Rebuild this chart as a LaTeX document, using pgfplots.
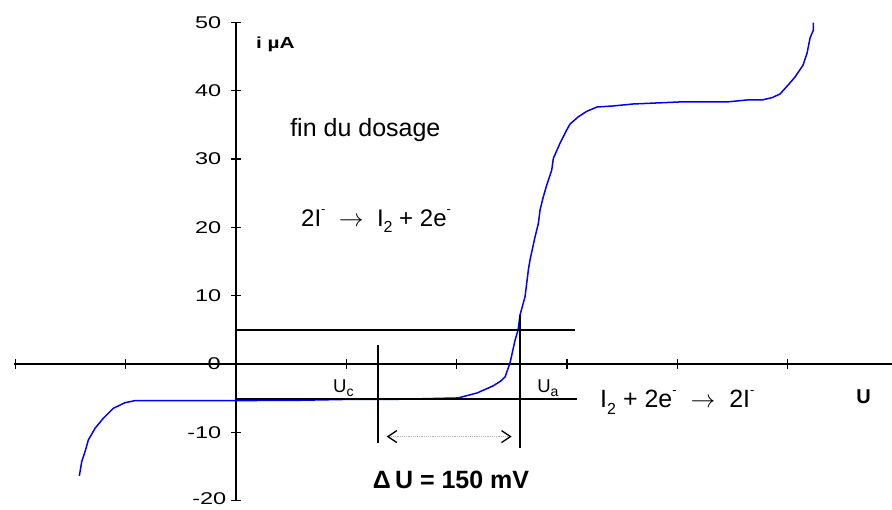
\documentclass[border=0pt]{standalone}
\usepackage{fontspec}
\setmainfont{Liberation Sans}
\usepackage{pgfplots}
\pgfplotsset{compat=1.18}
\usetikzlibrary{arrows.meta}
\newcommand{\fs}[1]{\fontsize{#1bp}{#1bp}\selectfont}
\newcommand{\sups}{\raisebox{0.55em}{\fs{13}-}}
\newcommand{\subs}[1]{\raisebox{-0.25em}{\fs{16}#1}}
\begin{document}
\begin{tikzpicture}
\begin{axis}[
  scale only axis, width=877.7bp, height=478bp,
  xmin=-2.01, xmax=5.947, ymin=-20, ymax=50,
  axis lines=middle, axis line style={-, line width=1.3bp, black},
  clip=false,
  xtick={-2,-1,0,1,2,3,4,5}, xticklabels={},
  ytick={-20,-10,0,10,20,30,40,50},
  yticklabels={,-10,0,10,20,30,40,50},
  tick align=center, major tick length=10bp,
  tick style={line width=1.3bp, black},
  yticklabel style={font=\fs{17}, anchor=east, inner sep=0pt, xshift=-9.5bp, xscale=1.38},
  xlabel={}, ylabel={},
]
\coordinate (bbl) at (axis cs:-2.140,-21.35);
\coordinate (bbr) at (axis cs:5.947,53.30);
% current-voltage curve
\addplot[blue, line width=1.5bp] coordinates {
(-1.421,-16.40) (-1.399,-14.31) (-1.369,-12.84) (-1.339,-11.13) (-1.278,-9.42)
(-1.203,-7.95) (-1.112,-6.49) (-1.006,-5.67) (-0.916,-5.37) (0,-5.37)
(0.580,-5.32) (0.988,-5.20) (1.487,-5.17) (2.013,-4.98) (2.185,-4.25)
(2.330,-3.22) (2.400,-2.50) (2.439,-1.90) (2.484,0.15) (2.530,3.51) (2.557,4.98)
(2.575,7.18) (2.620,9.86) (2.650,13.76) (2.665,15.23) (2.711,18.64)
(2.741,20.60) (2.756,22.55) (2.786,24.50) (2.817,26.21) (2.862,28.41)
(2.877,30.12) (2.937,32.32) (2.998,34.27) (3.028,35.14) (3.101,36.17)
(3.180,37.00) (3.273,37.63) (3.418,37.78) (3.599,38.07) (4.025,38.37) (4.451,38.37)
(4.633,38.66) (4.769,38.66) (4.860,39.00) (4.932,39.54) (5.005,40.85) (5.068,42.03)
(5.141,43.78) (5.177,45.54) (5.204,47.74) (5.234,48.91) (5.234,50.0)
};
% construction lines
\addplot[black, line width=1.5bp] coordinates {(0,5) (3.073,5)};
\addplot[black, line width=1.5bp] coordinates {(0,-5.13) (3.092,-5.13)};
\addplot[black, line width=1.5bp] coordinates {(1.287,2.78) (1.287,-11.57)};
\addplot[black, line width=1.5bp] coordinates {(2.575,7.18) (2.575,-12.30)};
\addplot[gray!60, line width=1.2bp, densely dotted,
  {Straight Barb[length=9bp,width=12bp,line width=1.3bp,color=black]}-{Straight Barb[length=9bp,width=12bp,line width=1.3bp,color=black]}]
  coordinates {(1.366,-10.64) (2.499,-10.64)};
% tick labels that the middle axis lines hide or that sit at the edge
\node[anchor=east, inner sep=0pt, font=\fs{17}, xshift=-15bp, xscale=1.38] at (axis cs:0,0) {0};
\node[anchor=east, inner sep=0pt, font=\fs{17}, xshift=-9.5bp, yshift=1.5bp, xscale=1.38] at (axis cs:0,-20) {-20};
% texts
\node[anchor=base west, inner sep=0pt, font=\fs{16}\bfseries, xscale=1.3] at (axis cs:0.180,46.23) {i µA};
\node[anchor=base west, inner sep=0pt, font=\fs{25}] at (axis cs:0.490,33.28) {fin du dosage};
\node[anchor=base west, inner sep=0pt, font=\fs{24}] at (axis cs:0.589,20.11) {2I\sups\ \ $\rightarrow$\ \ I\subs{2} + 2e\sups};
\node[anchor=base west, inner sep=0pt, font=\fs{25}] at (axis cs:3.300,-6.44) {I\subs{2} + 2e\sups\ \ $\rightarrow$\ \ 2I\sups};
\node[anchor=base west, inner sep=0pt, font=\fs{20}\bfseries] at (axis cs:5.621,-5.86) {U};
\node[anchor=base west, inner sep=0pt, font=\fs{18.5}] at (axis cs:0.879,-4.20) {U\raisebox{-0.2em}{\fs{14}c}};
\node[anchor=base west, inner sep=0pt, font=\fs{18.5}] at (axis cs:2.729,-4.20) {U\raisebox{-0.2em}{\fs{14}a}};
\node[anchor=base west, inner sep=0pt, font=\fs{25}\bfseries] at (axis cs:1.239,-18.20) {Δ\,U = 150 mV};
\end{axis}
\pgfresetboundingbox
\useasboundingbox (bbl) rectangle (bbr);
\end{tikzpicture}
\end{document}
